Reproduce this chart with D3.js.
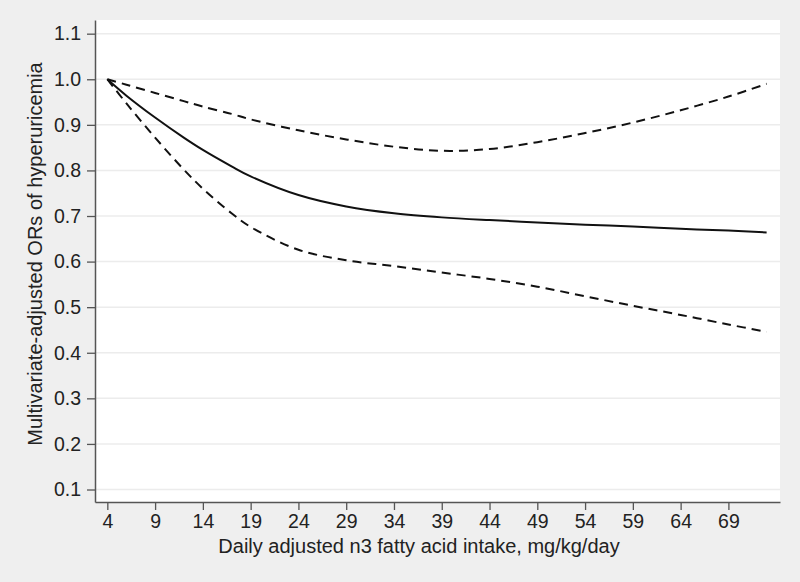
<!DOCTYPE html>
<html>
<head>
<meta charset="utf-8">
<script src="https://cdn.jsdelivr.net/npm/d3@7"></script>
<style>
  body { margin: 0; background: #efefef; }
  svg { display: block; font-family: "Liberation Sans", Arial, sans-serif; }
</style>
</head>
<body>
<div id="chart"></div>
<script>
// intake, mg/kg/day
var intake = [4, 6, 9, 12, 14, 17, 19, 24, 29, 34, 39, 44, 49, 54, 59, 64, 69, 73];
var orMain = [1.0, 0.964, 0.916, 0.872, 0.845, 0.809, 0.787, 0.746, 0.721, 0.706, 0.697, 0.691, 0.686, 0.681, 0.677, 0.672, 0.668, 0.664];
var orUpper = [1.0, 0.988, 0.97, 0.952, 0.94, 0.924, 0.912, 0.888, 0.868, 0.852, 0.843, 0.847, 0.862, 0.882, 0.905, 0.932, 0.962, 0.99];
var orLower = [1.0, 0.947, 0.872, 0.802, 0.76, 0.706, 0.676, 0.626, 0.603, 0.59, 0.576, 0.562, 0.545, 0.524, 0.503, 0.483, 0.462, 0.446];
var xTicks = [4, 9, 14, 19, 24, 29, 34, 39, 44, 49, 54, 59, 64, 69];
var yTicks = [0.1, 0.2, 0.3, 0.4, 0.5, 0.6, 0.7, 0.8, 0.9, 1.0, 1.1];

var width = 800, height = 582;
var margin = {top: 20, right: 20, bottom: 80, left: 95};

var svg = d3.select("#chart").append("svg")
	.attr("width", width).attr("height", height)

svg.append("rect").attr("width", width).attr("height", height).attr("fill", "#efefef")

var x = d3.scaleLinear().domain([2.71, 74.4]).range([margin.left, width - margin.right])
var y = d3.scaleLinear().domain([0.0726, 1.13]).range([height - margin.bottom, margin.top])

svg.append("rect")
	.attr("x", margin.left).attr("y", margin.top)
	.attr("width", width - margin.left - margin.right)
	.attr("height", height - margin.top - margin.bottom)
	.attr("fill", "white")

// gridlines
svg.selectAll(".grid").data(yTicks).enter().append("line")
	.attr("class", "grid")
	.attr("x1", margin.left).attr("x2", width - margin.right)
	.attr("y1", function(d){ return y(d) }).attr("y2", function(d){ return y(d) })
	.style("stroke", "#ececec").style("stroke-width", "1.5px")

var xAxis = svg.append("g")
	.attr("transform", "translate(0," + (height - margin.bottom) + ")")
	.call(d3.axisBottom(x).tickValues(xTicks).tickSize(8).tickPadding(4).tickSizeOuter(0))
var yAxis = svg.append("g")
	.attr("transform", "translate(" + margin.left + ",0)")
	.call(d3.axisLeft(y).tickValues(yTicks).tickFormat(d3.format(".1f")).tickSize(8).tickPadding(6).tickSizeOuter(0))

svg.selectAll(".domain").style("stroke", "#555").style("stroke-width", "1.5px")
svg.selectAll(".tick line").style("stroke", "#555").style("stroke-width", "1.3px")
svg.selectAll(".tick text").style("font-size", "19.5px").style("fill", "#222")
	.style("font-family", "'Liberation Sans', Arial, sans-serif")

var line = d3.line().curve(d3.curveCatmullRom.alpha(0.5))
	.x(function(d){ return x(d[0]) }).y(function(d){ return y(d[1]) })

var series = [
	{vals: orUpper, dash: "9,6"},
	{vals: orLower, dash: "9,6"},
	{vals: orMain, dash: null}
]
series.forEach(function(s){
	svg.append("path")
		.datum(intake.map(function(v, i){ return [v, s.vals[i]] }))
		.attr("d", line)
		.attr("fill", "none")
		.style("stroke", "#111")
		.style("stroke-width", "2px")
		.style("stroke-dasharray", s.dash)
})

svg.append("text")
	.attr("x", 419).attr("y", 553)
	.attr("text-anchor", "middle").style("font-size", "20px").attr("fill", "#222")
	.text("Daily adjusted n3 fatty acid intake, mg/kg/day")

svg.append("text")
	.attr("transform", "translate(42," + 254 + ") rotate(-90)")
	.attr("text-anchor", "middle").style("font-size", "20px").attr("fill", "#222")
	.text("Multivariate-adjusted ORs of hyperuricemia")
</script>
</body>
</html>
